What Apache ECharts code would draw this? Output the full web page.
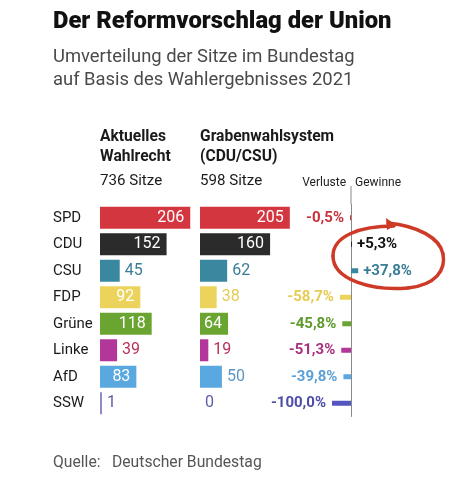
<!DOCTYPE html>
<html><head><meta charset="utf-8">
<script src="https://cdn.jsdelivr.net/npm/echarts@6/dist/echarts.min.js"></script>
<style>html,body{margin:0;padding:0;background:#fff}#c{width:461px;height:500px}</style>
</head><body><div id="c"></div>
<script>
const parties = ['SPD','CDU','CSU','FDP','Grüne','Linke','AfD','SSW'];
const currentSeats = [206,152,45,92,118,39,83,1];
const proposedSeats = [205,160,62,38,64,19,50,0];
const changePct = [-0.5,5.3,37.8,-58.7,-45.8,-51.3,-39.8,-100.0];
const headers = ['Aktuelles','Wahlrecht','736 Sitze','Grabenwahlsystem','(CDU/CSU)','598 Sitze'];

const barColors = ['#d4363f','#2b2b2b','#3a87a0','#ecd35c','#6aa531','#b3379a','#5aa8e0','#8c8cc8'];
const labelColors = ['#c8323c','#222222','#3a7d96','#e6cb52','#5f9a2c','#b8325a','#5a96c8','#5c5ca8'];
const pctColors = ['#c8323c','#111111','#3a7d96','#e6cb52','#5f9a2c','#a8307f','#5aa0d8','#4d4daa'];
const pctBarColors = ['#d4363f','#2b2b2b','#3a87a0','#ecd35c','#6aa531','#b3379a','#5aa8e0','#5555c0'];

const FAMILY = 'Roboto, "Liberation Sans", sans-serif';

// pick a font size so that a text spans the given width
const _ctx = document.createElement('canvas').getContext('2d');
function fitFont(text, weight, width){
  _ctx.font = weight+' 100px '+FAMILY;
  const w = _ctx.measureText(text).width;
  const size = Math.round(100*width/w*10)/10;
  return weight+' '+size+'px '+FAMILY;
}

function seatData(arr){
  return arr.map((v,i)=>({
    value:v,
    itemStyle:{color:barColors[i]},
    label: v>=64 ? {position:'insideRight', color:'#fff', distance:6}
                 : {position:'right', color:labelColors[i], distance:5}
  }));
}
function fmtPct(v){
  const s = Math.abs(v).toFixed(1).replace('.',',');
  return (v>0?'+':'-')+s+'%';
}
const pctData = changePct.map((v,i)=>({
  value:v,
  itemStyle:{color:pctBarColors[i]},
  label:{position: v<0?'left':'right', color:pctColors[i], distance: v<0?6:5}
}));

function txt(x,y,text,font,fill,align){
  return {type:'text', x:x, y:y, style:{text:text, font:font, fill:fill,
    textAlign:align||'left', textVerticalAlign:'middle'}};
}
const RED = '#cf3a28';
function bz(x1,y1,c1x,c1y,c2x,c2y,x2,y2){
  return {type:'bezierCurve', z:100, shape:{x1:x1,y1:y1,cpx1:c1x,cpy1:c1y,cpx2:c2x,cpy2:c2y,x2:x2,y2:y2},
    style:{stroke:RED, lineWidth:3.5, fill:null, lineCap:'round'}};
}

const title = 'Der Reformvorschlag der Union';
const sub1 = 'Umverteilung der Sitze im Bundestag';
const sub2 = 'auf Basis des Wahlergebnisses 2021';
const subFont = fitFont(sub1,'normal',302);
const hdrBold = fitFont(headers[3],'bold',134);
const hdrReg = fitFont(headers[2],'normal',62);
const footFont = fitFont('Deutscher Bundestag','normal',150);

const gridTop = 204.5, gridH = 212;
const chart = echarts.init(document.getElementById('c'));
chart.setOption({
  animation:false,
  textStyle:{fontFamily:FAMILY},
  grid:[
    {left:100, width:92, top:gridTop, height:gridH},
    {left:200, width:92, top:gridTop, height:gridH},
    {left:332, width:38, top:gridTop, height:gridH}
  ],
  xAxis:[
    {gridIndex:0, type:'value', min:0, max:210, show:false},
    {gridIndex:1, type:'value', min:0, max:210, show:false},
    {gridIndex:2, type:'value', min:-100, max:100, show:false}
  ],
  yAxis:[
    {gridIndex:0, type:'category', data:parties, inverse:true,
     axisLine:{show:false}, axisTick:{show:false},
     axisLabel:{align:'left', margin:47, fontSize:15, color:'#1a1a1a', fontFamily:FAMILY}},
    {gridIndex:1, type:'category', data:parties, inverse:true, show:false},
    {gridIndex:2, type:'category', data:parties, inverse:true,
     axisLine:{show:true, onZero:true, lineStyle:{color:'#8a8a8a', width:1}},
     axisTick:{show:false}, axisLabel:{show:false}}
  ],
  series:[
    {type:'bar', xAxisIndex:0, yAxisIndex:0, barWidth:22, barMinHeight:2,
     data:seatData(currentSeats),
     label:{show:true, fontSize:16, fontFamily:FAMILY}},
    {type:'bar', xAxisIndex:1, yAxisIndex:1, barWidth:22,
     data:seatData(proposedSeats),
     label:{show:true, fontSize:16, fontFamily:FAMILY}},
    {type:'bar', xAxisIndex:2, yAxisIndex:2, barWidth:5, barMinHeight:1,
     data:pctData,
     label:{show:true, fontSize:15, fontWeight:'bold', fontFamily:FAMILY,
            formatter:p=>fmtPct(p.value)}}
  ],
  graphic:[
    txt(53,22,title,fitFont(title,'900',339),'#111'),
    txt(53,57,sub1,subFont,'#4a4a4a'),
    txt(53,80,sub2,subFont,'#4a4a4a'),
    txt(100,137,headers[0],hdrBold,'#1a1a1a'),
    txt(100,157,headers[1],hdrBold,'#1a1a1a'),
    txt(100,181,headers[2],hdrReg,'#1a1a1a'),
    txt(200,137,headers[3],hdrBold,'#1a1a1a'),
    txt(200,157,headers[4],hdrBold,'#1a1a1a'),
    txt(200,181,headers[5],hdrReg,'#1a1a1a'),
    txt(346,183,'Verluste','12px '+FAMILY,'#222','right'),
    txt(355,183,'Gewinne','12px '+FAMILY,'#222'),
    {type:'line', shape:{x1:351, y1:186, x2:351, y2:gridTop}, style:{stroke:'#8a8a8a', lineWidth:1}},
    txt(53,463,'Quelle:',footFont,'#555'),
    txt(112,463,'Deutscher Bundestag',footFont,'#555'),
    bz(394,226, 360,226, 333,236, 333,256),
    bz(333,256, 333,280, 372,291, 408,288),
    bz(408,288, 436,285, 446,270, 443,254),
    bz(443,254, 440,238, 418,226, 388,223),
    {type:'polygon', z:101, shape:{points:[[386,218],[396,225],[387,230]]}, style:{fill:RED}}
  ]
});
</script></body></html>
